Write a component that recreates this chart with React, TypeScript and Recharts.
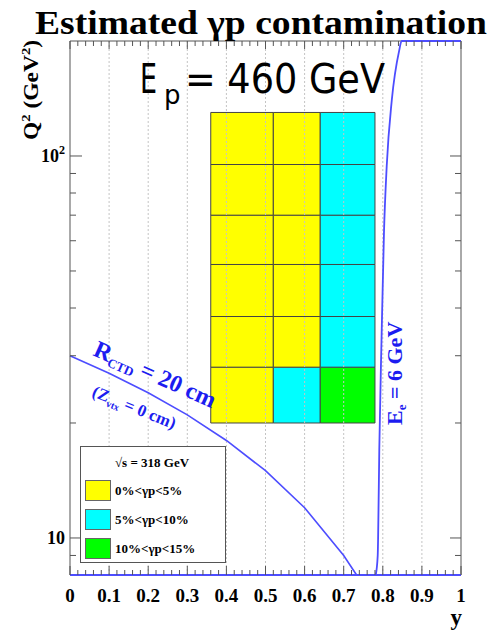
import React from 'react';
import { ComposedChart, Line, XAxis, YAxis, ReferenceArea, ReferenceLine } from 'recharts';

const SERIF = '"Liberation Serif", "DejaVu Serif", serif';
const SANS = '"DejaVu Sans", "Open Sans", sans-serif';
const BLUE_LINE = '#4d4dff';
const BLUE_TEXT = '#1c1cf0';
const FRAME = '#555555';

const W = 488;
const H = 631;
const MARGIN = { top: 41, right: 27, bottom: 16, left: 10 };
const PLOT_TOP = MARGIN.top;
const PLOT_RIGHT = W - MARGIN.right;
const X_TICK_MARGIN = 13;
const Y_TICK_MARGIN = 5;

// axis ticks
const xMajorTicks = [0, 0.1, 0.2, 0.3, 0.4, 0.5, 0.6, 0.7, 0.8, 0.9, 1];
const xTickLabels = ['0', '0.1', '0.2', '0.3', '0.4', '0.5', '0.6', '0.7', '0.8', '0.9', '1'];
const xMinorTicks = [
  0.02, 0.04, 0.06, 0.08, 0.12, 0.14, 0.16, 0.18, 0.22, 0.24, 0.26, 0.28,
  0.32, 0.34, 0.36, 0.38, 0.42, 0.44, 0.46, 0.48, 0.52, 0.54, 0.56, 0.58,
  0.62, 0.64, 0.66, 0.68, 0.72, 0.74, 0.76, 0.78, 0.82, 0.84, 0.86, 0.88,
  0.92, 0.94, 0.96, 0.98,
];
const yMajorTicks = [10, 100];
const yMajorLabels = [['10', ''], ['10', '2']];
const yMinorTicks = [9, 20, 30, 40, 50, 60, 70, 80, 90];
const xDomain = [0, 1];
const yDomain = [8, 200];

const xAllTicks = [...xMajorTicks, ...xMinorTicks].sort((a, b) => a - b);
const yAllTicks = [...yMajorTicks, ...yMinorTicks].sort((a, b) => a - b);

// curves (y, Q2)
const rctdCurve = [
  { y: 0, q2: 30 },
  { y: 0.1, q2: 27 },
  { y: 0.2, q2: 24 },
  { y: 0.3, q2: 21 },
  { y: 0.4, q2: 18 },
  { y: 0.5, q2: 15 },
  { y: 0.6, q2: 12 },
  { y: 0.7, q2: 9 },
  { y: 0.733, q2: 8 },
];
const eeCurve = [
  { y: 0.782, q2: 8 },
  { y: 0.787, q2: 9 },
  { y: 0.788, q2: 10 },
  { y: 0.791, q2: 17 },
  { y: 0.797, q2: 34 },
  { y: 0.803, q2: 63 },
  { y: 0.81, q2: 94 },
  { y: 0.823, q2: 140 },
  { y: 0.842, q2: 189 },
  { y: 0.848, q2: 200 },
  { y: 1.0, q2: 200 },
];

// bins
const binEdgesY = [0.36, 0.52, 0.64, 0.78];
const binEdgesQ2 = [20, 28, 38, 52, 70, 95, 130];
const YELLOW = '#ffff00';
const CYAN = '#00ffff';
const GREEN = '#00ff00';
// rows bottom -> top, columns left -> right
const binColors = [
  [YELLOW, CYAN, GREEN],
  [YELLOW, YELLOW, CYAN],
  [YELLOW, YELLOW, CYAN],
  [YELLOW, YELLOW, CYAN],
  [YELLOW, YELLOW, CYAN],
  [YELLOW, YELLOW, CYAN],
];

const legendTitle = '√s = 318 GeV';
const legendLabels = ['0%<γp<5%', '5%<γp<10%', '10%<γp<15%'];
const legendColors = [YELLOW, CYAN, GREEN];

function majorIndex(list: number[], v: number) {
  return list.findIndex((t) => Math.abs(t - v) < 1e-9);
}

function XTick(props: any) {
  const { x, y, payload } = props;
  const idx = majorIndex(xMajorTicks, payload.value);
  const major = idx >= 0;
  const axisY = y - X_TICK_MARGIN;
  return (
    <g>
      <line x1={x} x2={x} y1={axisY} y2={axisY - (major ? 9 : 5)} stroke={FRAME} strokeWidth={1} />
      <line x1={x} x2={x} y1={PLOT_TOP} y2={PLOT_TOP + (major ? 8 : 5)} stroke={FRAME} strokeWidth={1} />
      {major ? (
        <text x={x} y={y} dy="0.72em" textAnchor="middle" fontFamily={SERIF} fontWeight="bold" fontSize={19} fill="#000">
          {xTickLabels[idx]}
        </text>
      ) : null}
    </g>
  );
}

function YTick(props: any) {
  const { x, y, payload } = props;
  const idx = majorIndex(yMajorTicks, payload.value);
  const major = idx >= 0;
  const axisX = x + Y_TICK_MARGIN;
  const lab = major ? yMajorLabels[idx] : null;
  return (
    <g>
      <line x1={axisX} x2={axisX + (major ? 12 : 6)} y1={y} y2={y} stroke={FRAME} strokeWidth={1} />
      <line x1={PLOT_RIGHT} x2={PLOT_RIGHT - (major ? 11 : 6)} y1={y} y2={y} stroke={FRAME} strokeWidth={1} />
      {lab ? (
        <text x={x} y={y} dy={6} textAnchor="end" fontFamily={SERIF} fontWeight="bold" fontSize={18} fill="#000">
          {lab[0]}
          {lab[1] ? (
            <tspan dy={-8} fontSize={12}>
              {lab[1]}
            </tspan>
          ) : null}
        </text>
      ) : null}
    </g>
  );
}

export default function App() {
  const cells: React.ReactNode[] = [];
  binColors.forEach((row, r) => {
    row.forEach((color, c) => {
      cells.push(
        <ReferenceArea
          key={`cell-${r}-${c}`}
          x1={binEdgesY[c]}
          x2={binEdgesY[c + 1]}
          y1={binEdgesQ2[r]}
          y2={binEdgesQ2[r + 1]}
          fill={color}
          fillOpacity={1}
          stroke="#444"
          strokeOpacity={1}
          strokeWidth={1}
          ifOverflow="visible"
        />
      );
    });
  });

  return (
    <div style={{ position: 'absolute', left: 0, top: 0, width: W, height: H, background: '#fff' }}>
      <ComposedChart width={W} height={H} margin={MARGIN}>
        <XAxis
          dataKey="y"
          type="number"
          domain={xDomain}
          ticks={xAllTicks}
          interval={0}
          height={40}
          tickLine={false}
          tickSize={0}
          tickMargin={X_TICK_MARGIN}
          axisLine={{ stroke: BLUE_LINE, strokeWidth: 2 }}
          tick={<XTick />}
        />
        <YAxis
          type="number"
          scale="log"
          domain={yDomain}
          ticks={yAllTicks}
          interval={0}
          width={60}
          tickLine={false}
          tickSize={0}
          tickMargin={Y_TICK_MARGIN}
          axisLine={{ stroke: FRAME }}
          tick={<YTick />}
        />

        {xMajorTicks.slice(1, -1).map((v) => (
          <ReferenceLine key={`grid-${v}`} x={v} stroke="#c4c4c4" strokeDasharray="2 2" strokeWidth={1} />
        ))}
        <ReferenceLine y={yDomain[1]} stroke={FRAME} strokeWidth={1} />
        <ReferenceLine x={xDomain[1]} stroke={FRAME} strokeWidth={1} />

        {cells}

        <Line
          data={rctdCurve}
          dataKey="q2"
          type="linear"
          stroke={BLUE_LINE}
          strokeWidth={1.6}
          dot={false}
          isAnimationActive={false}
        />
        <Line
          data={eeCurve}
          dataKey="q2"
          type="monotone"
          stroke={BLUE_LINE}
          strokeWidth={1.8}
          dot={false}
          isAnimationActive={false}
        />
      </ComposedChart>

      <svg width={W} height={H} style={{ position: 'absolute', left: 0, top: 0, pointerEvents: 'none' }}>
        {/* title */}
        <text x={35} y={34} fontFamily={SERIF} fontWeight="bold" fontSize={33} fill="#000" textLength={452} lengthAdjust="spacingAndGlyphs">
          Estimated γp contamination
        </text>

        {/* E_p label */}
        <text x={140} y={93} fontFamily={SANS} fontSize={40} fill="#000" textLength={17} lengthAdjust="spacingAndGlyphs">E</text>
        <text x={164} y={104} fontFamily={SANS} fontSize={26} fill="#000">p</text>
        <text x={185} y={93} fontFamily={SANS} fontSize={40} fill="#000" textLength={200} lengthAdjust="spacingAndGlyphs">
          = 460 GeV
        </text>

        {/* y-axis title */}
        <text
          transform="translate(38,140) rotate(-90)"
          fontFamily={SERIF}
          fontWeight="bold"
          fontSize={21}
          fill="#000"
          textLength={100}
          lengthAdjust="spacingAndGlyphs"
        >
          Q<tspan dy={-8} fontSize={13}>2</tspan>
          <tspan dy={8}> (GeV</tspan>
          <tspan dy={-8} fontSize={13}>2</tspan>
          <tspan dy={8}>)</tspan>
        </text>

        {/* x-axis title */}
        <text x={462} y={625} textAnchor="end" fontFamily={SERIF} fontWeight="bold" fontSize={23} fill="#000">
          y
        </text>

        {/* R_CTD label */}
        <text transform="translate(92,355) rotate(24)" fontFamily={SERIF} fontWeight="bold" fontSize={24} fill={BLUE_TEXT}>
          R<tspan fontSize={13} dy={4}>CTD</tspan>
          <tspan dy={-4}> = 20 cm</tspan>
        </text>
        <text transform="translate(91,396) rotate(22)" fontFamily={SERIF} fontWeight="bold" fontSize={17} fill={BLUE_TEXT}>
          (Z<tspan fontSize={10} dy={4}>vtx</tspan>
          <tspan dy={-4}> = 0 cm)</tspan>
        </text>

        {/* E_e label */}
        <text transform="translate(402,425) rotate(-90)" fontFamily={SERIF} fontWeight="bold" fontSize={22} fill={BLUE_TEXT}>
          E<tspan fontSize={13} dy={4}>e</tspan>
          <tspan dy={-4}> = 6 GeV</tspan>
        </text>

        {/* legend */}
        <rect x={80.5} y={446.5} width={145} height={116} fill="#fff" stroke={FRAME} strokeWidth={1} />
        <text x={152} y={467} textAnchor="middle" fontFamily={SERIF} fontWeight="bold" fontSize={13} fill="#000">
          {legendTitle}
        </text>
        {legendLabels.map((lab, i) => (
          <g key={lab}>
            <rect x={85.5} y={480.5 + i * 29} width={25} height={20} fill={legendColors[i]} stroke="#666" strokeWidth={1} />
            <text x={115} y={495 + i * 29} fontFamily={SERIF} fontWeight="bold" fontSize={13} fill="#000">
              {lab}
            </text>
          </g>
        ))}
      </svg>
    </div>
  );
}
